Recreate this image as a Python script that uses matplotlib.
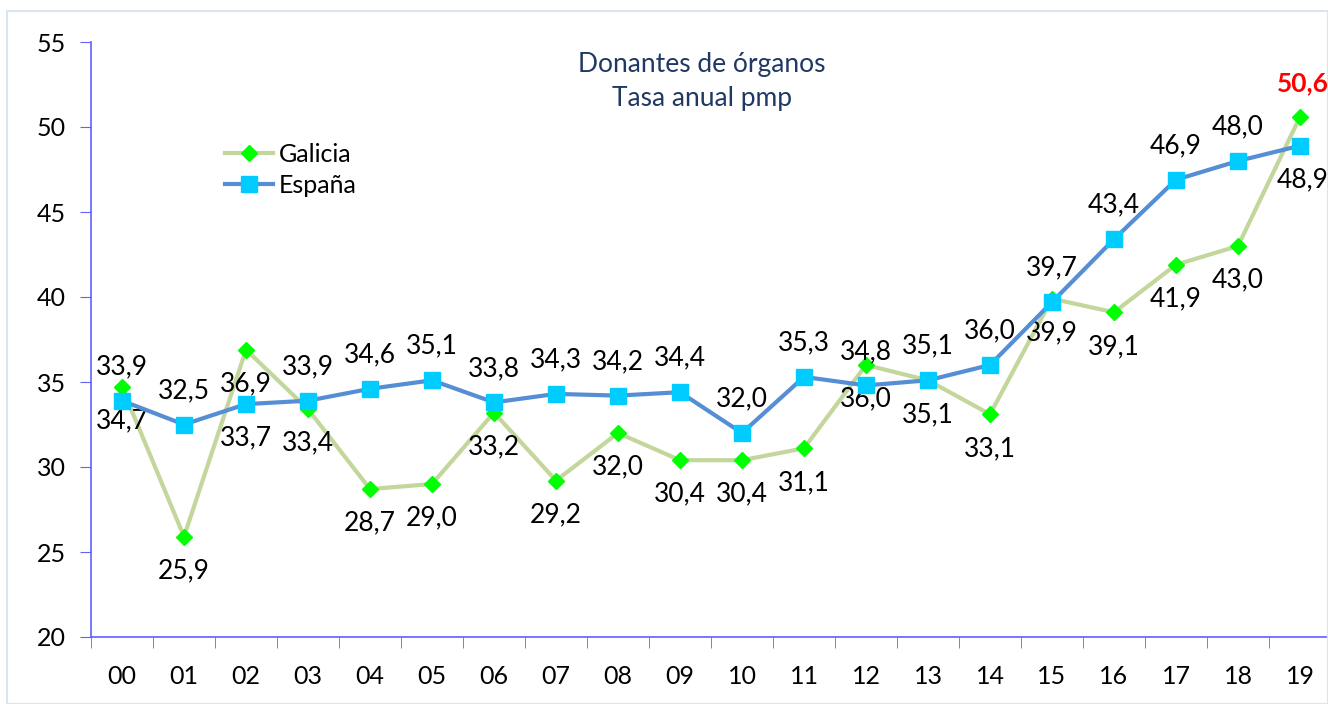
import matplotlib.pyplot as plt
from matplotlib.patches import Rectangle

plt.rcParams['font.family'] = ['Lato', 'DejaVu Sans']

anos = ['00', '01', '02', '03', '04', '05', '06', '07', '08', '09',
        '10', '11', '12', '13', '14', '15', '16', '17', '18', '19']
galicia = [34.7, 25.9, 36.9, 33.4, 28.7, 29.0, 33.2, 29.2, 32.0, 30.4,
           30.4, 31.1, 36.0, 35.1, 33.1, 39.9, 39.1, 41.9, 43.0, 50.6]
espana = [33.9, 32.5, 33.7, 33.9, 34.6, 35.1, 33.8, 34.3, 34.2, 34.4,
          32.0, 35.3, 34.8, 35.1, 36.0, 39.7, 43.4, 46.9, 48.0, 48.9]

W, H = 1328, 704
fig = plt.figure(figsize=(W / 100, H / 100), dpi=100)
fig.patches.append(Rectangle((7 / W, 0), (W - 7) / W, (H - 11) / H, transform=fig.transFigure,
                             fill=False, edgecolor='#dbe5f1', linewidth=1.5))

ax = fig.add_axes([91 / W, (H - 637) / H, (1331 - 91) / W, (637 - 42) / H])
x = list(range(len(anos)))

ax.plot(x, galicia, color='#c3d69b', linewidth=3, marker='D', markersize=8,
        markerfacecolor='#00ff00', markeredgecolor='#00ff00', label='Galicia', zorder=3)
ax.plot(x, espana, color='#558ed5', linewidth=3, marker='s', markersize=11,
        markerfacecolor='#00ccff', markeredgecolor='#00ccff', label='España', zorder=4)

off = 24.5
fs = 19
for i in x:
    g = f'{galicia[i]:.1f}'.replace('.', ',')
    e = f'{espana[i]:.1f}'.replace('.', ',')
    if i == len(x) - 1:
        ax.annotate(g, (i, galicia[i]), xytext=(2, off), textcoords='offset points',
                    ha='center', va='center', fontsize=fs, color='red', fontweight='bold')
        ax.annotate(e, (i, espana[i]), xytext=(2, -off), textcoords='offset points',
                    ha='center', va='center', fontsize=fs)
        continue
    ax.annotate(g, (i, galicia[i]), xytext=(0, -off), textcoords='offset points',
                ha='center', va='center', fontsize=fs)
    dy = -off if i == 2 else off
    ax.annotate(e, (i, espana[i]), xytext=(0, dy), textcoords='offset points',
                ha='center', va='center', fontsize=fs)

ax.set_xlim(-0.5, len(x) - 0.5)
ax.set_ylim(20, 55)
ax.set_yticks(range(20, 56, 5))
ax.set_xticks(x)
ax.set_xticklabels(anos)
ax.set_xticks([i - 0.5 for i in range(len(x) + 1)], minor=True)
ax.tick_params(axis='x', which='major', length=0, pad=20, labelsize=18)
ax.tick_params(axis='x', which='minor', length=8, color='#6060ff', direction='out')
ax.tick_params(axis='y', length=8, color='#6060ff', direction='out', pad=10, labelsize=18)

for s in ['top', 'right']:
    ax.spines[s].set_visible(False)
for s in ['left', 'bottom']:
    ax.spines[s].set_color('#6060ff')
    ax.spines[s].set_linewidth(1.2)

ax.text(0.4927, 0.9336, 'Donantes de órganos\nTasa anual pmp', transform=ax.transAxes,
        ha='center', va='center', fontsize=19, color='#1f3864', linespacing=1.45)

ax.legend(loc='upper left', bbox_to_anchor=(0.09, 0.868), frameon=False, fontsize=18,
          handlelength=1.9, handletextpad=0.25, labelspacing=0.3)

fig.savefig('out.png', dpi=100)
